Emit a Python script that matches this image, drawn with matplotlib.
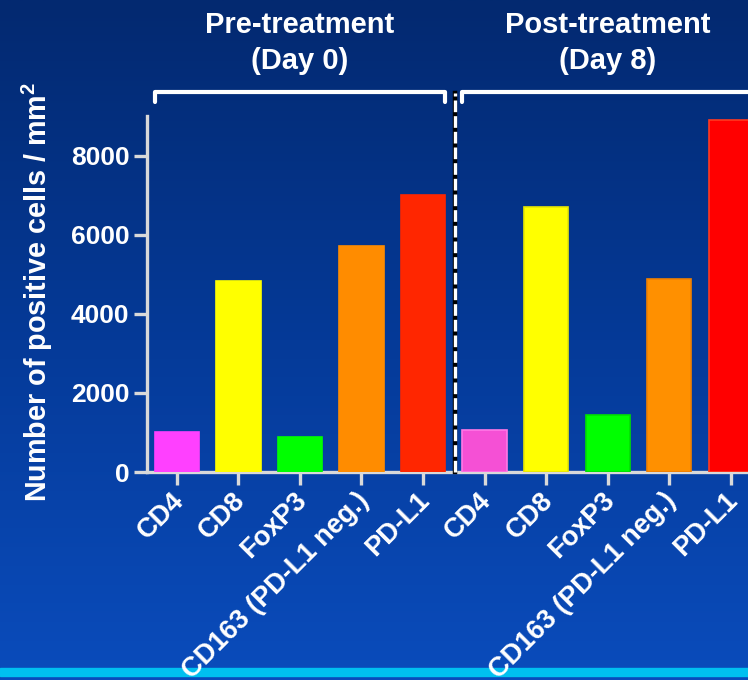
import numpy as np
import matplotlib
matplotlib.use('Agg')
import matplotlib.pyplot as plt
import matplotlib.transforms as mtransforms
from matplotlib.colors import LinearSegmentedColormap
from matplotlib.patches import Rectangle

plt.rcParams['font.family'] = ['Liberation Sans', 'DejaVu Sans']
plt.rcParams['mathtext.fontset'] = 'custom'
plt.rcParams['mathtext.rm'] = 'Liberation Sans'
plt.rcParams['mathtext.bf'] = 'Liberation Sans:bold'

# Cell densities (positive cells / mm^2)
markers = ['CD4', 'CD8', 'FoxP3', 'CD163 (PD-L1 neg.)', 'PD-L1']
pre_values = [1000, 4830, 880, 5710, 7010]
post_values = [1060, 6700, 1440, 4890, 8910]
pre_colors = ['#ff40ff', '#ffff00', '#00ff00', '#ff8c00', '#ff2600']
post_colors = ['#f550d5', '#ffff00', '#00ff00', '#ff9000', '#ff0000']
post_edges = ['#ff78e6', '#e8e800', '#00e000', '#f08000', '#ff3a20']
group_titles = ['Pre-treatment\n(Day 0)', 'Post-treatment\n(Day 8)']
yticks = [0, 2000, 4000, 6000, 8000]

W, H = 748, 680
fig = plt.figure(figsize=(W / 100, H / 100), dpi=100)

# blue gradient background
bg = fig.add_axes([0, 0, 1, 1], zorder=-10)
cmap = LinearSegmentedColormap.from_list('bg', ['#032970', '#053a98', '#0a4cbc'])
bg.imshow(np.linspace(0, 1, 256).reshape(-1, 1), aspect='auto', cmap=cmap,
          extent=[0, 1, 0, 1])
bg.axis('off')

# cyan rule near the bottom (kept under the tick labels)
fig.add_artist(Rectangle((0, 1 - 676 / H), 1, 8 / H, color='#00c0f0',
                         transform=fig.transFigure, zorder=-5))

ax = fig.add_axes([146.7 / W, 1 - 472 / H, 1 - 146.7 / W, (472 - 116) / H])
ax.set_facecolor('none')

x = np.arange(10)
values = pre_values + post_values
colors = pre_colors + post_colors
edges = pre_colors + post_edges
ax.bar(x, values, width=0.72, color=colors, edgecolor=edges, linewidth=1.2, zorder=3)

ax.set_xlim(-0.49, 9.28)
ax.set_ylim(0, 9000)

gray = '#d9d9d9'
for side in ['top', 'right']:
    ax.spines[side].set_visible(False)
for side in ['left', 'bottom']:
    ax.spines[side].set_color(gray)
    ax.spines[side].set_linewidth(2.4)

ax.set_yticks(yticks)
ax.set_yticklabels([str(v) for v in yticks], fontsize=19, fontweight='bold', color='white')
ax.tick_params(axis='y', length=9.5, width=2.4, color=gray, pad=3)
ax.set_xticks(x)
ax.set_xticklabels(markers * 2, rotation=45, ha='right', va='center',
                   rotation_mode='anchor', fontsize=19.5, fontweight='bold', color='white')
ax.tick_params(axis='x', length=9.5, width=2.4, color=gray, pad=8)
nudge = mtransforms.ScaledTranslation(3 / 100, 0, fig.dpi_scale_trans)
for lab in ax.get_xticklabels():
    lab.set_transform(lab.get_transform() + nudge)

# y label
fig.text(37 / W, 1 - 292 / H, 'Number of positive cells / mm$^\\mathbf{2}$',
         rotation=90, ha='center', va='center', fontsize=20.7,
         fontweight='bold', color='white')

blend = mtransforms.blended_transform_factory(ax.transData, fig.transFigure)

def py(p):
    return 1 - p / H

# group brackets and titles
for (x0, x1, xc), title in zip([(-0.36, 4.36, 2), (4.64, 9.36, 7)], group_titles):
    ax.plot([x0, x0, x1, x1], [py(102), py(92), py(92), py(102)], color='white',
            lw=3, transform=blend, clip_on=False, solid_capstyle='round',
            solid_joinstyle='round')
    line1, line2 = title.split('\n')
    ax.text(xc, py(33), line1, transform=blend, ha='center', va='baseline',
            fontsize=21, fontweight='bold', color='white')
    ax.text(xc, py(69), line2, transform=blend, ha='center', va='baseline',
            fontsize=21, fontweight='bold', color='white')

# dashed divider between the two time points
ax.plot([4.52, 4.52], [py(472), py(93)], color='black', lw=3.2,
        transform=blend, clip_on=False, zorder=4)
ax.plot([4.52, 4.52], [py(472), py(93)], color='white', lw=2.4,
        dashes=(3.5, 1.2), transform=blend, clip_on=False, zorder=5)

fig.savefig('out.png', dpi=100)
